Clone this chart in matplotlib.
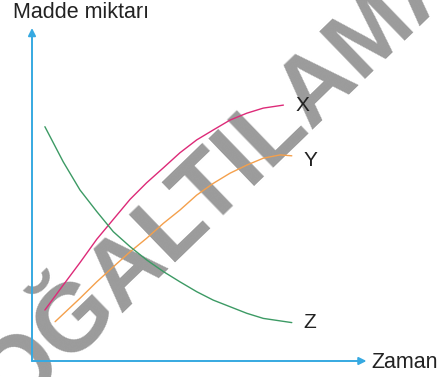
import matplotlib.pyplot as plt

plt.rcParams['font.family'] = ['Liberation Sans', 'DejaVu Sans']

# time / amount readings for the three substances
x_time = [0.43, 1.04, 1.6, 2.16, 2.71, 3.27, 3.82, 4.38, 4.93, 5.49, 6.04, 6.6, 7.16, 7.71, 8.38]
x_amount = [1.7, 2.53, 3.28, 4.06, 4.72, 5.39, 5.94, 6.44, 6.94, 7.37, 7.7, 8.03, 8.26, 8.43, 8.53]

y_time = [0.77, 1.6, 2.16, 2.71, 3.27, 3.82, 4.38, 4.93, 5.49, 6.04, 6.6, 7.16, 7.71, 8.27, 8.66]
y_amount = [1.31, 2.09, 2.64, 3.14, 3.64, 4.09, 4.59, 5.03, 5.53, 5.92, 6.26, 6.53, 6.76, 6.87, 6.84]

z_time = [0.43, 1.04, 1.6, 2.16, 2.71, 3.27, 3.82, 4.38, 4.93, 5.49, 6.04, 6.6, 7.16, 7.71, 8.66]
z_amount = [7.81, 6.64, 5.7, 4.98, 4.31, 3.81, 3.37, 2.98, 2.64, 2.31, 2.03, 1.81, 1.59, 1.42, 1.28]

names = ['X', 'Y', 'Z']
colors = ['#dd2a78', '#f4a04c', '#3c9a64']
label_pos = [(9.03, 8.53), (9.27, 6.7), (9.27, 1.27)]

W, H = 446, 377
fig = plt.figure(figsize=(W / 100, H / 100), dpi=100)
fig.patch.set_facecolor('white')

# origin of the drawn axes sits at pixel (32, 361)
ax = fig.add_axes([32 / W, (H - 361) / H, (W - 32) / W, 361 / H])
ax.set_xlim(0, (W - 32) / 30)
ax.set_ylim(0, 361 / 30)
ax.axis('off')
ax.set_zorder(1)

axis_col = '#36a9e1'
ax.annotate('', xy=(0, 11.1), xytext=(0, 0),
            arrowprops=dict(arrowstyle='-|>', color=axis_col, lw=1.4,
                            mutation_scale=11, shrinkA=0, shrinkB=0))
ax.annotate('', xy=(11.15, 0), xytext=(0, 0),
            arrowprops=dict(arrowstyle='-|>', color=axis_col, lw=1.4,
                            mutation_scale=11, shrinkA=0, shrinkB=0))

series = [(x_time, x_amount), (y_time, y_amount), (z_time, z_amount)]
for (t, a), c, n, p in zip(series, colors, names, label_pos):
    ax.plot(t, a, color=c, lw=1.0, solid_capstyle='round')
    ax.text(p[0], p[1], n, fontsize=15, color='#222222',
            ha='center', va='center')

fig.text(13 / W, 1 - 12 / H, 'Madde miktarı', fontsize=15.5,
         color='#222222', ha='left', va='center')
fig.text(371 / W, 1 - 362 / H, 'Zaman', fontsize=15.5,
         color='#222222', ha='left', va='center')

# watermark, drawn behind the curves
fig.text(214 / W, 1 - 176 / H, 'ÇOĞALTILAMAZ', fontsize=69, rotation=44,
         fontweight='bold', color='#9b9b9b', zorder=0.5,
         ha='center', va='center', rotation_mode='anchor')

fig.savefig('out.png', dpi=100)
